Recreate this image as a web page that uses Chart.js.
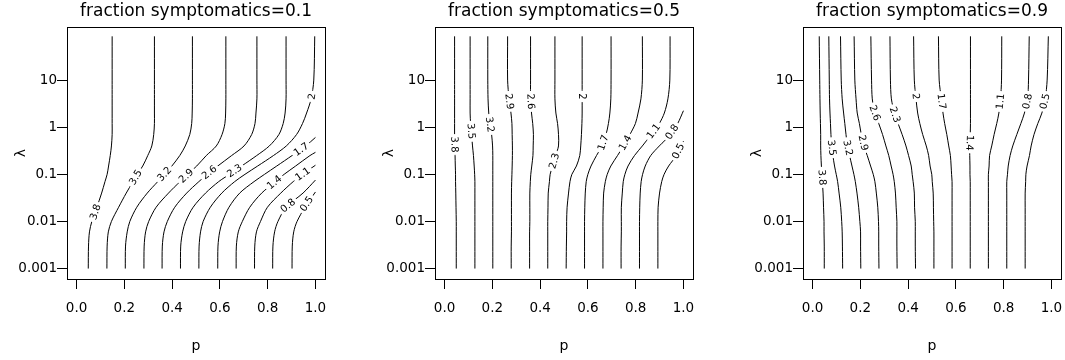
<!DOCTYPE html>
<html>
<head>
<meta charset="utf-8">
<script src="https://cdn.jsdelivr.net/npm/chart.js@4.4.1/dist/chart.umd.min.js"></script>
<style>
  html, body { margin: 0; padding: 0; background: #fff; overflow: hidden; width: 1065px; height: 360px; }
  canvas { position: absolute; top: 0; }
</style>
</head>
<body>
<canvas id="c1" width="392" height="360" style="left:0px"></canvas>
<canvas id="c2" width="392" height="360" style="left:368px"></canvas>
<canvas id="c3" width="392" height="360" style="left:736px"></canvas>
<script>
const lamGrid = [0.001, 0.003, 0.006, 0.01, 0.02, 0.04, 0.07, 0.1, 0.15, 0.25, 0.4, 0.7, 1.2, 2, 4, 10, 85];
const levels = ["3.8", "3.5", "3.2", "2.9", "2.6", "2.3", "2", "1.7", "1.4", "1.1", "0.8", "0.5"];
const xTicks = [0, 0.2, 0.4, 0.6, 0.8, 1];
const yTicks = [0.001, 0.01, 0.1, 1, 10];
const titles = ["fraction symptomatics=0.1", "fraction symptomatics=0.5", "fraction symptomatics=0.9"];

// p of each contour at lamGrid (shorter rows leave through p = 1)
const p1 = [
  [.049, .050, .054, .064, .085, .105, .119, .128, .134, .141, .146, .149, .149, .149, .149, .149, .149],
  [.127, .128, .133, .146, .176, .208, .236, .254, .277, .298, .315, .323, .326, .326, .326, .326, .326],
  [.204, .205, .212, .223, .252, .296, .340, .369, .399, .432, .455, .474, .482, .484, .485, .485, .485],
  [.282, .283, .289, .302, .333, .385, .433, .465, .503, .543, .585, .609, .621, .624, .625, .625, .625],
  [.358, .359, .366, .380, .411, .461, .512, .547, .591, .649, .701, .733, .747, .751, .755, .755, .755],
  [.435, .436, .444, .457, .488, .540, .595, .640, .691, .754, .807, .847, .865, .873, .877, .877, .877],
  [.512, .513, .519, .530, .560, .608, .662, .705, .758, .824, .878, .921, .946, .963, .982, .993, .997],
  [.591, .592, .599, .611, .638, .683, .743, .787, .838, .902, .959],
  [.668, .669, .677, .694, .725, .775, .832, .869, .917, .977],
  [.745, .746, .753, .770, .799, .855, .907, .946],
  [.821, .822, .829, .843, .877, .948],
  [.902, .903, .909, .923, .956]
];
const exit1 = [null, null, null, null, null, null, null, 0.607, 0.293, 0.156, 0.0755, 0.0422];
const lab1 = [[.079, .0158], [.247, .086], [.368, .101], [.459, .093], [.556, .11], [.661, .119],
  [.985, 4.5], [.940, .34], [.828, .0675], [.947, .101], [.885, .0217], [.963, .0236]];

const p2 = [
  [.049, .049, .049, .049, .048, .047, .046, .046, .045, .044, .043, .042, .042, .042, .042, .042, .042],
  [.127, .127, .127, .127, .127, .127, .127, .126, .124, .121, .117, .113, .109, .107, .107, .107, .107],
  [.202, .202, .202, .202, .202, .202, .202, .202, .202, .202, .201, .197, .190, .185, .182, .181, .181],
  [.279, .279, .280, .280, .280, .280, .281, .282, .283, .284, .284, .283, .282, .278, .270, .264, .264],
  [.356, .356, .356, .357, .357, .357, .359, .361, .365, .370, .371, .372, .369, .364, .360, .360, .360],
  [.432, .432, .432, .432, .433, .434, .439, .442, .452, .465, .477, .477, .473, .466, .462, .462, .462],
  [.509, .510, .511, .511, .513, .519, .525, .533, .552, .566, .570, .573, .575, .576, .576, .576, .576],
  [.586, .586, .586, .586, .587, .589, .593, .600, .613, .636, .659, .676, .686, .692, .696, .697, .697],
  [.663, .663, .663, .663, .664, .666, .673, .681, .696, .724, .749, .776, .799, .810, .822, .828, .828],
  [.739, .739, .740, .740, .740, .744, .748, .755, .768, .795, .828, .865, .899, .920, .935, .943, .944],
  [.816, .816, .816, .816, .817, .819, .823, .829, .840, .863, .899, .946, .976],
  [.893, .893, .893, .893, .894, .900, .909, .919, .938, .970]
];
const exit2 = [null, null, null, null, null, null, null, null, null, null, 2.24, 0.507];
const lab2 = [[.042, .43], [.112, .82], [.190, 1.14], [.271, 3.53], [.361, 3.53], [.459, .192],
  [.576, 4.5], [.664, .468], [.756, .468], [.875, .82], [.952, .80], [.978, .31]];

const p3 = [
  [.049, .049, .048, .048, .046, .044, .041, .039, .037, .035, .034, .034, .033, .032, .031, .030, .028],
  [.126, .125, .124, .122, .118, .111, .105, .099, .092, .085, .080, .077, .075, .073, .071, .070, .068],
  [.202, .201, .201, .198, .193, .186, .179, .173, .165, .155, .146, .140, .135, .130, .124, .120, .117],
  [.278, .277, .277, .276, .273, .267, .261, .254, .243, .229, .215, .204, .196, .187, .182, .177, .174],
  [.354, .353, .353, .353, .350, .347, .342, .337, .329, .319, .307, .293, .277, .261, .250, .247, .244],
  [.431, .430, .430, .430, .427, .426, .421, .417, .413, .402, .391, .375, .358, .343, .330, .326, .324],
  [.508, .508, .508, .507, .506, .505, .501, .499, .492, .486, .476, .461, .449, .440, .433, .426, .423],
  [.584, .584, .584, .584, .584, .584, .584, .582, .580, .577, .570, .562, .553, .546, .539, .530, .527],
  [.660, .660, .660, .660, .660, .660, .660, .659, .659, .658, .658, .660, .661, .661, .661, .661, .661],
  [.736, .736, .736, .736, .736, .736, .736, .736, .739, .741, .750, .760, .771, .780, .787, .791, .792],
  [.813, .813, .813, .813, .813, .813, .813, .816, .819, .827, .838, .855, .872, .887, .900, .904, .907],
  [.890, .890, .890, .890, .890, .890, .892, .893, .898, .908, .915, .927, .943, .960, .974, .982, .987]
];
const exit3 = [null, null, null, null, null, null, null, null, null, null, null, null];
const lab3 = [[.040, .086], [.081, .367], [.148, .367], [.212, .468], [.261, 2.0], [.345, 1.85],
  [.432, 4.5], [.540, 3.53], [.658, .468], [.786, 3.53], [.899, 3.53], [.972, 3.53]];

const FONT = "'DejaVu Sans', Verdana, sans-serif";

function buildLines(pArr, exits) {
  return pArr.map((ps, i) => {
    const pts = ps.map((p, j) => ({ x: p, y: lamGrid[j] }));
    if (exits[i] !== null) pts.push({ x: 1, y: exits[i] });
    return pts;
  });
}

function segDist(px, py, a, b) {
  const dx = b[0] - a[0], dy = b[1] - a[1];
  const len = dx * dx + dy * dy;
  let t = len ? ((px - a[0]) * dx + (py - a[1]) * dy) / len : 0;
  t = Math.max(0, Math.min(1, t));
  const qx = a[0] + t * dx - px, qy = a[1] + t * dy - py;
  return qx * qx + qy * qy;
}

// contour level labels, rotated along the line, with a gap cut in it
const contourLabels = {
  id: 'contourLabels',
  afterDatasetsDraw(chart, args, opts) {
    const { ctx, scales: { x, y } } = chart;
    opts.pos.forEach((lp, i) => {
      const px = x.getPixelForValue(lp[0]);
      const py = y.getPixelForValue(lp[1]);
      const pts = chart.getDatasetMeta(i).data.map(e => [e.x, e.y]);
      let best = Infinity, ang = 0;
      for (let k = 0; k < pts.length - 1; k++) {
        const d = segDist(px, py, pts[k], pts[k + 1]);
        if (d < best) {
          best = d;
          ang = Math.atan2(pts[k + 1][1] - pts[k][1], pts[k + 1][0] - pts[k][0]);
        }
      }
      if (ang > Math.PI / 2) ang -= Math.PI;
      if (ang < -85 * Math.PI / 180) ang += Math.PI;
      ctx.save();
      ctx.translate(px, py);
      ctx.rotate(ang);
      ctx.font = '10px ' + FONT;
      ctx.textAlign = 'center';
      ctx.textBaseline = 'middle';
      const w = ctx.measureText(levels[i]).width;
      ctx.fillStyle = '#fff';
      ctx.fillRect(-w / 2 - 2.5, -5.5, w + 5, 11);
      ctx.fillStyle = '#000';
      ctx.fillText(levels[i], 0, 0.5);
      ctx.restore();
    });
  }
};

// frame round the plot region and the panel title centred over it
const framePlugin = {
  id: 'framePlugin',
  afterDraw(chart, args, opts) {
    const { ctx, chartArea: a } = chart;
    ctx.save();
    ctx.strokeStyle = '#000';
    ctx.lineWidth = 1;
    ctx.strokeRect(Math.round(a.left) + 0.5, Math.round(a.top) + 0.5,
      Math.round(a.right - a.left), Math.round(a.bottom - a.top));
    ctx.fillStyle = '#000';
    ctx.font = '17px ' + FONT;
    ctx.textAlign = 'center';
    ctx.textBaseline = 'middle';
    ctx.fillText(opts.text, (a.left + a.right) / 2, 12);
    ctx.restore();
  }
};

function makeChart(id, title, lines, labels) {
  return new Chart(document.getElementById(id), {
    type: 'scatter',
    data: {
      datasets: lines.map((pts, i) => ({
        label: levels[i],
        data: pts,
        showLine: true,
        borderColor: '#000',
        borderWidth: 1,
        pointRadius: 0,
        tension: 0.3,
        fill: false
      }))
    },
    options: {
      responsive: false,
      animation: false,
      devicePixelRatio: 1,
      layout: { padding: { left: 0, right: 67, top: 27, bottom: 0 } },
      plugins: {
        legend: { display: false },
        tooltip: { enabled: false },
        title: { display: false },
        contourLabels: { pos: labels },
        framePlugin: { text: title }
      },
      scales: {
        x: {
          type: 'linear', min: -0.04, max: 1.04,
          afterBuildTicks: s => { s.ticks = xTicks.map(v => ({ value: v })); },
          afterFit: s => { s.height = 81; },
          grid: { drawOnChartArea: false, drawTicks: true, tickLength: 10, color: '#000', lineWidth: 1 },
          border: { display: false },
          ticks: {
            color: '#000', padding: 11, maxRotation: 0, autoSkip: false,
            font: { family: FONT, size: 13.5 },
            callback: v => Number(v).toFixed(1)
          },
          title: {
            display: true, text: 'p', color: '#000',
            font: { family: FONT, size: 14 },
            padding: { top: 0, bottom: 5 }
          }
        },
        y: {
          type: 'logarithmic', min: 0.000635, max: 134,
          afterBuildTicks: s => { s.ticks = yTicks.map(v => ({ value: v })); },
          afterFit: s => { s.width = 67; },
          grid: { drawOnChartArea: false, drawTicks: true, tickLength: 10, color: '#000', lineWidth: 1 },
          border: { display: false },
          ticks: {
            color: '#000', padding: 0, autoSkip: false,
            font: { family: FONT, size: 13.5 },
            callback: v => String(v)
          },
          title: {
            display: true, text: 'λ', color: '#000',
            font: { family: FONT, size: 14 },
            padding: { top: 12.6, bottom: 0 }
          }
        }
      }
    },
    plugins: [contourLabels, framePlugin]
  });
}

makeChart('c1', titles[0], buildLines(p1, exit1), lab1);
makeChart('c2', titles[1], buildLines(p2, exit2), lab2);
makeChart('c3', titles[2], buildLines(p3, exit3), lab3);
</script>
</body>
</html>
